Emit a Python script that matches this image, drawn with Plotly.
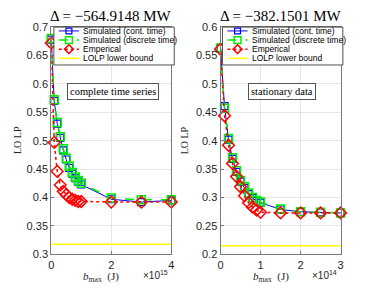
import plotly.graph_objects as go

W, H = 380, 292

# ---------------- data ----------------
# left panel: complete time series, b_max in units of 1e15 J
b_left = [0, 0.1, 0.2, 0.3, 0.4, 0.5, 0.6, 0.7, 0.8, 0.9, 1.0, 2, 3, 4]
sim_cont_left = [0.678, 0.570, 0.530, 0.505, 0.483, 0.467, 0.452, 0.442, 0.434, 0.428, 0.423, 0.397, 0.392, 0.395]
sim_disc_left = [0.680, 0.572, 0.532, 0.507, 0.486, 0.469, 0.455, 0.444, 0.436, 0.430, 0.425, 0.399, 0.396, 0.396]
emp_left = [0.672, 0.497, 0.446, 0.422, 0.411, 0.405, 0.400, 0.397, 0.395, 0.393, 0.393, 0.392, 0.392, 0.392]
lb_left = 0.318

# right panel: stationary data, b_max in units of 1e14 J
b_right = [0, 0.1, 0.2, 0.3, 0.4, 0.5, 0.6, 0.7, 0.8, 0.9, 1.0, 1.5, 2, 2.5, 3]
sim_cont_right = [0.563, 0.461, 0.402, 0.368, 0.345, 0.328, 0.317, 0.306, 0.299, 0.294, 0.291, 0.279, 0.275, 0.274, 0.273]
sim_disc_right = [0.563, 0.457, 0.404, 0.370, 0.347, 0.330, 0.319, 0.308, 0.300, 0.295, 0.292, 0.280, 0.275, 0.274, 0.273]
emp_right = [0.561, 0.444, 0.392, 0.360, 0.337, 0.319, 0.303, 0.291, 0.283, 0.278, 0.274, 0.273, 0.273, 0.273, 0.273]
lb_right = 0.215

titles = ["Δ = −564.9148 MW", "Δ = −382.1501 MW"]
boxes = ["complete time series", "stationary data"]
exps = ["×10<sup>15</sup>", "×10<sup>14</sup>"]
names = ["Simulated (cont. time)", "Simulated (discrete time)", "Emperical", "LOLP lower bound"]

SANS = "Liberation Sans, Arial, sans-serif"
SERIF = "Liberation Serif, Times New Roman, serif"
AXC = "#7a7a7a"
TXC = "#262626"

# series styles (shared by traces and the hand-drawn legend)
styles = [
    dict(color="#0000ff", width=1, dash="solid", symbol="square-open", size=7, mlw=1.2),
    dict(color="#00ee00", width=1.5, dash="dash", symbol="square-open", size=8, mlw=1.5),
    dict(color="#ff0000", width=1.5, dash="dot", symbol="diamond-open", size=9, mlw=1.5),
    dict(color="#ffff00", width=1.5, dash="solid", symbol=None, size=0, mlw=0),
]

fig = go.Figure()

panels = [
    dict(x=b_left, series=[sim_cont_left, sim_disc_left, emp_left], lb=lb_left, xa="x", ya="y"),
    dict(x=b_right, series=[sim_cont_right, sim_disc_right, emp_right], lb=lb_right, xa="x2", ya="y2"),
]

for p in panels:
    for k, ys in enumerate(p["series"]):
        s = styles[k]
        fig.add_trace(go.Scatter(x=p["x"], y=ys, mode="lines+markers", name=names[k],
                                 line=dict(color=s["color"], width=s["width"], dash=s["dash"]),
                                 marker=dict(symbol=s["symbol"], size=s["size"], color=s["color"],
                                             line=dict(width=s["mlw"])),
                                 xaxis=p["xa"], yaxis=p["ya"], showlegend=False, cliponaxis=False))
    s = styles[3]
    fig.add_trace(go.Scatter(x=[p["x"][0], p["x"][-1]], y=[p["lb"], p["lb"]], mode="lines", name=names[3],
                             line=dict(color=s["color"], width=s["width"]),
                             xaxis=p["xa"], yaxis=p["ya"], showlegend=False))

ydom = [1 - 259 / H, 1 - 22 / H]
axcommon = dict(showline=True, mirror=True, linecolor=AXC, linewidth=1,
                ticks="inside", ticklen=3, tickcolor=AXC,
                showgrid=True, gridcolor="#e6e6e6", gridwidth=1, zeroline=False,
                tickfont=dict(family=SANS, size=11, color=TXC))

fig.update_layout(
    width=W, height=H, margin=dict(l=0, r=0, t=0, b=0),
    paper_bgcolor="white", plot_bgcolor="white",
    xaxis=dict(domain=[49 / W, 171 / W], range=[0, 4], tickvals=[0, 2, 4], anchor="y", **axcommon),
    yaxis=dict(domain=ydom, range=[0.3, 0.7], dtick=0.05, anchor="x", **axcommon),
    xaxis2=dict(domain=[221 / W, 343 / W], range=[0, 3], tickvals=[0, 1, 2, 3], anchor="y2", **axcommon),
    yaxis2=dict(domain=ydom, range=[0.2, 0.6], dtick=0.05, anchor="x2", **axcommon),
    showlegend=False,
)

# ---------- hand-drawn MATLAB-style legends (layout only) ----------
def px(x):
    return x / W


def py(y):
    return 1 - y / H


leg_left = [51.7, 223.0]
leg_w = 122.3
leg_top, leg_bot = 22.0, 61.5
row0, row_h = 26.0, 9.5
for L in leg_left:
    fig.add_shape(type="rect", xref="paper", yref="paper",
                  x0=px(L), x1=px(L + leg_w), y0=py(leg_bot), y1=py(leg_top),
                  line=dict(color=TXC, width=0.8), fillcolor="white", layer="above")
    for k, s in enumerate(styles):
        yc = row0 + k * row_h
        fig.add_shape(type="line", xref="paper", yref="paper",
                      x0=px(L + 5), x1=px(L + 25.5), y0=py(yc), y1=py(yc),
                      line=dict(color=s["color"], width=s["width"], dash=s["dash"]), layer="above")
        cx = L + 15.3
        if s["symbol"] == "square-open":
            h = s["size"] / 2 - 0.5
            fig.add_shape(type="rect", xref="paper", yref="paper",
                          x0=px(cx - h), x1=px(cx + h), y0=py(yc + h), y1=py(yc - h),
                          line=dict(color=s["color"], width=s["mlw"]), layer="above")
        elif s["symbol"] == "diamond-open":
            h = s["size"] / 2
            path = (f"M {px(cx - h)} {py(yc)} L {px(cx)} {py(yc - h)} "
                    f"L {px(cx + h)} {py(yc)} L {px(cx)} {py(yc + h)} Z")
            fig.add_shape(type="path", xref="paper", yref="paper", path=path,
                          line=dict(color=s["color"], width=s["mlw"]), layer="above")
        fig.add_annotation(x=px(L + 28), y=py(yc), xref="paper", yref="paper",
                           text=names[k], showarrow=False, xanchor="left", yanchor="middle",
                           font=dict(family=SANS, size=8.5, color="black"))

centers = [110, 282]
expc = [155, 327]
ylabx = [14, 184]
for i in range(2):
    fig.add_annotation(x=px(centers[i]), y=py(10), xref="paper", yref="paper",
                       xanchor="center", yanchor="middle",
                       text=titles[i], showarrow=False,
                       font=dict(family=SERIF, size=15, color="black"))
    fig.add_annotation(x=px(centers[i] + 1.5), y=py(89), xref="paper", yref="paper",
                       xanchor="center", yanchor="middle",
                       text=boxes[i], showarrow=False, bgcolor="white",
                       bordercolor="#555555", borderwidth=1, borderpad=2,
                       font=dict(family=SERIF, size=10.5, color="black"))
    fig.add_annotation(x=px(centers[i] - 10), y=py(283), xref="paper", yref="paper",
                       xanchor="center", yanchor="middle",
                       text="<i>b</i><sub>max</sub>  (J)", showarrow=False,
                       font=dict(family=SERIF, size=11, color=TXC))
    fig.add_annotation(x=px(expc[i]), y=py(281), xref="paper", yref="paper",
                       xanchor="center", yanchor="middle",
                       text=exps[i], showarrow=False,
                       font=dict(family=SANS, size=10, color=TXC))
    fig.add_annotation(x=px(ylabx[i]), y=py(140), xref="paper", yref="paper",
                       xanchor="center", yanchor="middle",
                       text="LO LP", showarrow=False, textangle=-90,
                       font=dict(family=SERIF, size=10, color=TXC))

fig.write_html("out.html", config={"displayModeBar": False},
               post_script="document.body.style.margin='0';document.body.style.overflow='hidden';")
